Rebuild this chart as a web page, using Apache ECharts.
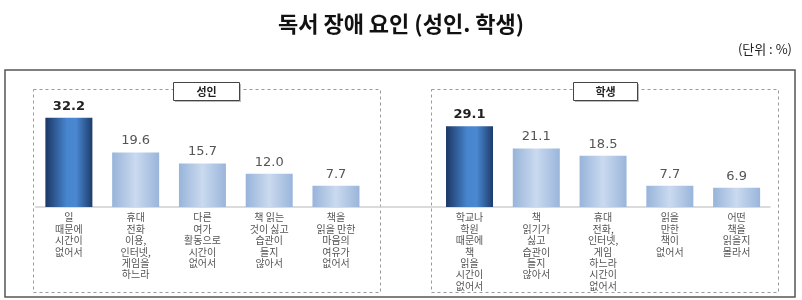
<!DOCTYPE html>
<html>
<head>
<meta charset="utf-8">
<script src="https://cdn.jsdelivr.net/npm/echarts@6/dist/echarts.min.js"></script>
<style>html,body{margin:0;padding:0;background:#fff;}#c{width:802px;height:300px;}</style>
</head>
<body>
<div id="c"></div>
<script>
const adultCategories = [
  "일\n때문에\n시간이\n없어서",
  "휴대\n전화\n이용,\n인터넷,\n게임을\n하느라",
  "다른\n여가\n활동으로\n시간이\n없어서",
  "책 읽는\n것이 싫고\n습관이\n들지\n않아서",
  "책을\n읽을 만한\n마음의\n여유가\n없어서"
];
const adultValues = [32.2, 19.6, 15.7, 12.0, 7.7];
const studentCategories = [
  "학교나\n학원\n때문에\n책\n읽을\n시간이\n없어서",
  "책\n읽기가\n싫고\n습관이\n들지\n않아서",
  "휴대\n전화,\n인터넷,\n게임\n하느라\n시간이\n없어서",
  "읽을\n만한\n책이\n없어서",
  "어떤\n책을\n읽을지\n몰라서"
];
const studentValues = [29.1, 21.1, 18.5, 7.7, 6.9];
const groupNames = ["성인", "학생"];
const titleText = "독서 장애 요인 (성인. 학생)";
const unitText = "(단위 : %)";

const darkGrad = {type:'linear',x:0,y:0,x2:1,y2:0,colorStops:[
  {offset:0,color:'#1b3763'},{offset:0.45,color:'#4785cf'},{offset:0.65,color:'#4a88d2'},{offset:1,color:'#1d3c6b'}]};
const lightGrad = {type:'linear',x:0,y:0,x2:1,y2:0,colorStops:[
  {offset:0,color:'#98b4da'},{offset:0.5,color:'#cadaef'},{offset:1,color:'#9ab5db'}]};

const categories = adultCategories.concat([''], studentCategories);
function toItems(vals){
  return vals.map((v,i)=>({
    value:v,
    itemStyle:{color: i===0 ? darkGrad : lightGrad},
    label: i===0 ? {fontWeight:'bold', color:'#222'} : {}
  }));
}
const data = toItems(adultValues).concat(['-'], toItems(studentValues));

const chart = echarts.init(document.getElementById('c'), null, {renderer:'canvas'});
const font = '"Noto Sans CJK KR", sans-serif';
chart.setOption({
  animation:false,
  title:{text:titleText,left:'center',top:8,textStyle:{fontFamily:font,fontSize:22,fontWeight:'bold',color:'#111'}},
  grid:{left:35.5,right:32,top:96,bottom:93,containLabel:false},
  xAxis:{type:'category',data:categories,
    axisLine:{lineStyle:{color:'#cfcfcf',width:1.5}},axisTick:{show:false},
    axisLabel:{interval:0,margin:5,fontFamily:font,fontSize:10,lineHeight:11.4,color:'#555'}},
  yAxis:{type:'value',min:0,max:40,show:false,splitLine:{show:false}},
  series:[{type:'bar',data:data,barWidth:47,
    label:{show:true,position:'top',distance:5,fontFamily:'"DejaVu Sans", sans-serif',fontSize:13,color:'#555',
      formatter:p=>Number(p.value).toFixed(1)}}],
  graphic:[
    {type:'text',right:10,top:43,style:{text:unitText,fontFamily:font,fontSize:13,fill:'#222'}},
    {type:'rect',shape:{x:5,y:70,width:790,height:227},style:{fill:'none',stroke:'#555',lineWidth:1.5},z:-1},
    {type:'rect',shape:{x:33.5,y:89.5,width:347,height:203},style:{fill:'none',stroke:'#9a9a9a',lineWidth:1,lineDash:[3,3]},z:-1},
    {type:'rect',shape:{x:431.5,y:89.5,width:347,height:203},style:{fill:'none',stroke:'#9a9a9a',lineWidth:1,lineDash:[3,3]},z:-1},
    {type:'rect',shape:{x:175,y:84,width:66,height:18},style:{fill:'#bbb'},z:1},
    {type:'rect',shape:{x:173.5,y:82.5,width:66,height:18},style:{fill:'#fff',stroke:'#444',lineWidth:1},z:2},
    {type:'text',x:206.5,y:91.5,style:{text:groupNames[0],align:'center',verticalAlign:'middle',fontFamily:font,fontSize:11,fontWeight:'bold',fill:'#222'},z:3},
    {type:'rect',shape:{x:575,y:84,width:64,height:18},style:{fill:'#bbb'},z:1},
    {type:'rect',shape:{x:573.5,y:82.5,width:64,height:18},style:{fill:'#fff',stroke:'#444',lineWidth:1},z:2},
    {type:'text',x:605.5,y:91.5,style:{text:groupNames[1],align:'center',verticalAlign:'middle',fontFamily:font,fontSize:11,fontWeight:'bold',fill:'#222'},z:3}
  ]
});
</script>
</body>
</html>
